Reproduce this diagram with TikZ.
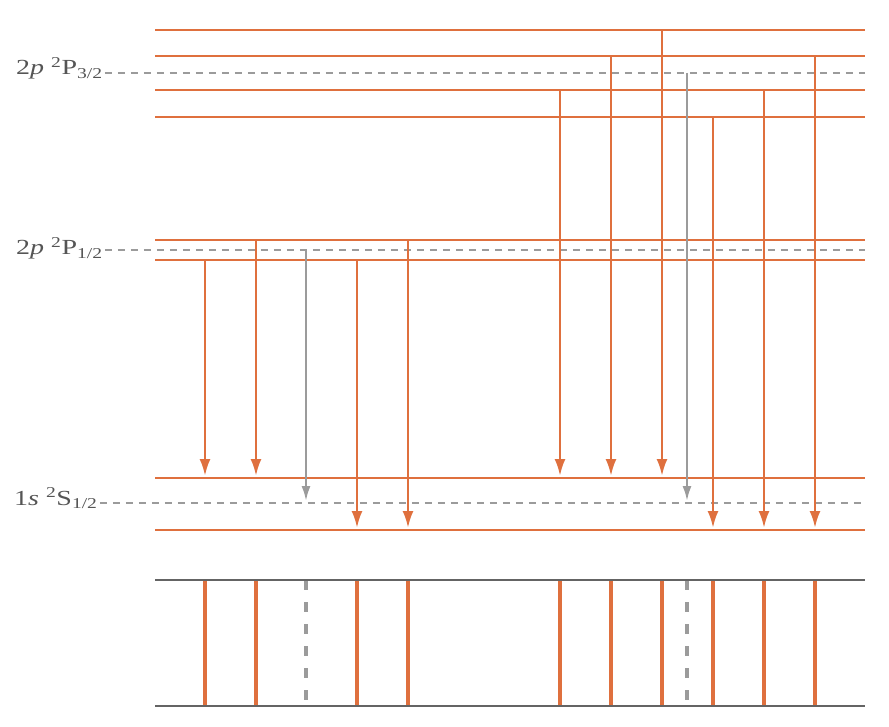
\documentclass[tikz,border=0pt]{standalone}
\usepackage{fontspec}
\usepackage{graphicx}
\setmainfont{Liberation Serif}
\usetikzlibrary{arrows.meta}
\definecolor{lineorange}{RGB}{223,112,62}
\definecolor{linegray}{RGB}{155,155,155}
\definecolor{labelgray}{RGB}{85,85,85}
\definecolor{boxgray}{RGB}{100,100,100}
\tikzset{
  level/.style={lineorange, line width=1.5pt},
  mid/.style={linegray, line width=1.1pt, dash pattern=on 7pt off 6pt},
  trans/.style={lineorange, line width=2.6pt, shorten >=2pt, -{Latex[length=17pt,width=11pt]}},
  graytrans/.style={linegray, line width=2.3pt, shorten >=2pt, -{Latex[length=15pt,width=9pt]}},
  lab/.style={anchor=base west, inner sep=0pt, text=labelgray, font=\fontsize{21.5}{23}\selectfont},
  spec/.style={lineorange, line width=3.2pt},
  specgray/.style={linegray, line width=3.2pt, dash pattern=on 10pt off 12pt},
  boxline/.style={boxgray, line width=1.6pt}
}
\newcommand{\wide}[1]{\scalebox{1.3}[1]{#1}}
\begin{document}
\begin{tikzpicture}[x=1pt,y=-1pt]
\useasboundingbox (0,0) rectangle (889,727);
% 2p 2P3/2 sublevels
\foreach \y/\n in {30/u1,56/u2,90/u4,117/u5}
  \draw[level] (155,\y) -- (865,\y) coordinate (\n);
\coordinate (u3) at (865,73);
% 2p 2P1/2 sublevels
\foreach \y/\n in {240/m1,260/m3}
  \draw[level] (155,\y) -- (865,\y) coordinate (\n);
\coordinate (m2) at (865,250);
% 1s 2S1/2 sublevels
\foreach \y/\n in {478/g1,530/g3}
  \draw[level] (155,\y) -- (865,\y) coordinate (\n);
\coordinate (g2) at (865,503);

% labels and unperturbed levels
\node[lab] (l3) at (16,75) {\wide{2\textit{p} \textsuperscript{2}P\textsubscript{3/2}}};
\node[lab] (l1) at (16,255) {\wide{2\textit{p} \textsuperscript{2}P\textsubscript{1/2}}};
\node[lab] (l0) at (14,505) {\wide{1\textit{s} \textsuperscript{2}S\textsubscript{1/2}}};
\draw[mid] ([xshift=2pt]l3.east |- u3) -- (u3);
\draw[mid] ([xshift=2pt]l1.east |- m2) -- (m2);
\draw[mid] ([xshift=2pt]l0.east |- g2) -- (g2);

% transitions
\foreach \x/\a/\b in {205/m3/g1,256/m1/g1,357/m3/g3,408/m1/g3,
    560/u4/g1,611/u2/g1,662/u1/g1,713/u5/g3,764/u4/g3,815/u2/g3}
  \draw[trans] (\x,0 |- \a) -- (\x,0 |- \b);
\foreach \x/\a/\b in {306/m2/g2,687/u3/g2}
  \draw[graytrans] (\x,0 |- \a) -- (\x,0 |- \b);

% spectrum
\coordinate (st) at (865,580);
\coordinate (sb) at (865,706);
\foreach \x in {205,256,357,408,560,611,662,713,764,815}
  \draw[spec] (\x,0 |- st) -- (\x,0 |- sb);
\foreach \x in {306,687}
  \draw[specgray] (\x,0 |- st) -- (\x,0 |- sb);
\draw[boxline] (155,0 |- st) -- (st);
\draw[boxline] (155,0 |- sb) -- (sb);
\end{tikzpicture}
\end{document}
